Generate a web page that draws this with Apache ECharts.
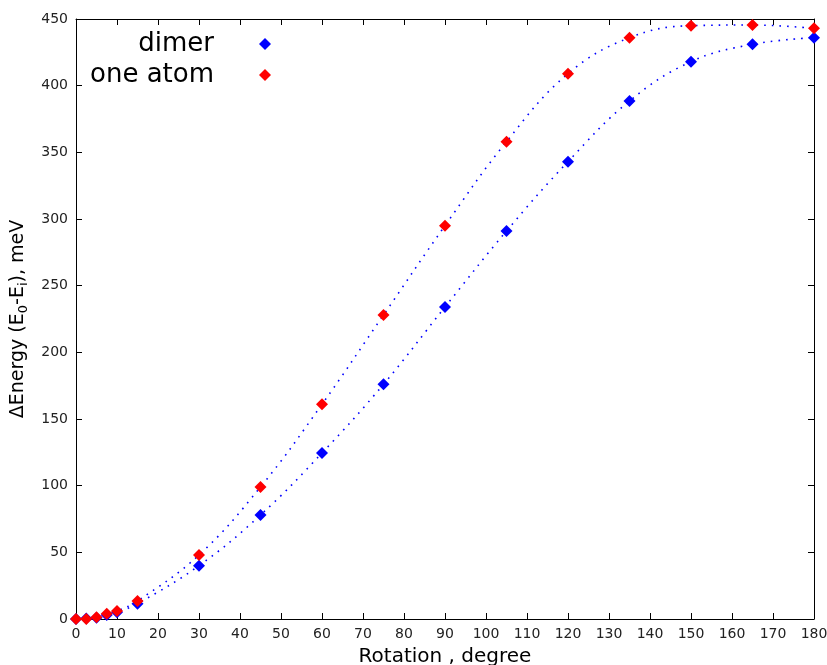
<!DOCTYPE html>
<html><head><meta charset="utf-8">
<script src="https://cdn.jsdelivr.net/npm/echarts@6/dist/echarts.min.js"></script>
<style>html,body{margin:0;padding:0;background:#fff}#c{width:827px;height:665px}</style>
</head><body><div id="c"></div>
<script>
const angles = [0, 2.5, 5, 7.5, 10, 15, 30, 45, 60, 75, 90, 105, 120, 135, 150, 165, 180];
const dimer = [0, 0.3, 1, 3, 5, 11.5, 40, 78, 124.5, 176, 234, 291, 343, 388.5, 418, 431, 436];
const oneAtom = [0, 0, 1.3, 4, 6, 13.5, 48, 99, 161, 228, 295, 358, 409, 436, 445, 445.5, 443];
const seriesNames = ['dimer', 'one atom'];

const pair = arr => angles.map((a, i) => [a, arr[i]]);
const font = 'DejaVu Sans';
const chart = echarts.init(document.getElementById('c'));
const axisCommon = {
  type: 'value', axisLine: {show: true, onZero: false, lineStyle: {color: '#000', width: 1}},
  axisTick: {show: true, inside: true, length: 6, lineStyle: {color: '#000'}},
  splitLine: {show: false}
};
const legendText = {fontSize: 26, fontFamily: font, color: '#000', padding: [0, 40, 0, 0]};
chart.setOption({
  animation: false,
  grid: {left: 76, right: 13, top: 19, bottom: 46, outerBoundsMode: 'none', containLabel: false},
  legend: [
    {data: [seriesNames[0]], right: 551, top: 26, align: 'right', itemWidth: 12, itemHeight: 12, itemGap: 0,
     textStyle: legendText},
    {data: [seriesNames[1]], right: 551, top: 57, align: 'right', itemWidth: 12, itemHeight: 12, itemGap: 0,
     textStyle: legendText}
  ],
  xAxis: [
    Object.assign({}, axisCommon, {min: 0, max: 180, interval: 10, position: 'bottom',
      axisLabel: {fontSize: 14, fontFamily: font, color: '#222', margin: 8},
      name: 'Rotation , degree', nameLocation: 'middle', nameGap: 28,
      nameTextStyle: {fontSize: 20, fontFamily: font, color: '#000'}}),
    Object.assign({}, axisCommon, {min: 0, max: 180, interval: 10, position: 'top', axisLabel: {show: false}})
  ],
  yAxis: [
    Object.assign({}, axisCommon, {min: 0, max: 450, interval: 50, position: 'left',
      axisLabel: {fontSize: 14, fontFamily: font, color: '#222', margin: 8},
      name: '{a|ΔEnergy (E}{s|0}{a|-E}{s|i}{a|), meV}', nameLocation: 'middle', nameGap: 43,
      nameTextStyle: {fontFamily: font, color: '#000',
        rich: {a: {fontSize: 19, fontFamily: font, color: '#000', lineHeight: 24},
               s: {fontSize: 13, fontFamily: font, color: '#000', verticalAlign: 'bottom', lineHeight: 12}}}}),
    Object.assign({}, axisCommon, {min: 0, max: 450, interval: 50, position: 'right', axisLabel: {show: false}})
  ],
  series: [
    {name: 'dimer fit', type: 'line', data: pair(dimer), smooth: 0.4, symbol: 'none',
     lineStyle: {color: '#0000ff', width: 1.6, type: [1.6, 6]}, z: 1},
    {name: 'one atom fit', type: 'line', data: pair(oneAtom), smooth: 0.4, symbol: 'none',
     lineStyle: {color: '#0000ff', width: 1.6, type: [1.6, 6]}, z: 1},
    {name: seriesNames[0], type: 'scatter', data: pair(dimer), symbol: 'diamond', symbolSize: 12,
     itemStyle: {color: '#0000ff', opacity: 1}, z: 3},
    {name: seriesNames[1], type: 'scatter', data: pair(oneAtom), symbol: 'diamond', symbolSize: 12,
     itemStyle: {color: '#ff0000', opacity: 1}, z: 4}
  ]
});
</script></body></html>
